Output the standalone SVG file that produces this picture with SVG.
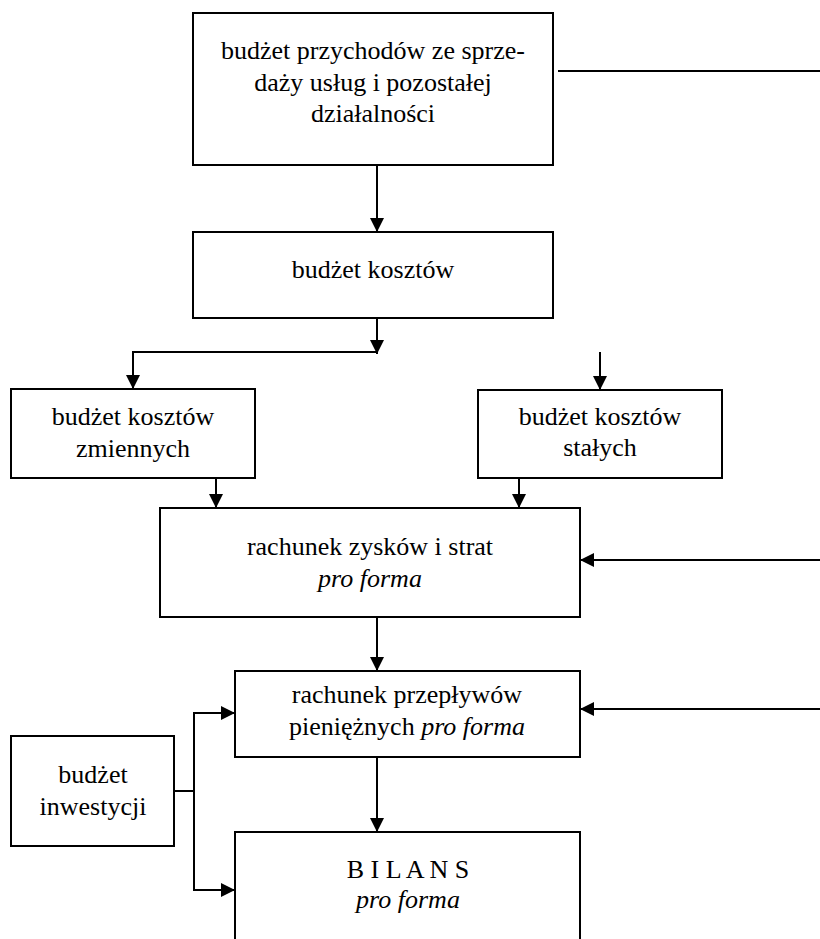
<svg xmlns="http://www.w3.org/2000/svg" width="820" height="939" viewBox="0 0 820 939">
<defs>
<marker id="ah" markerUnits="userSpaceOnUse" markerWidth="14" markerHeight="14" refX="14" refY="7" orient="auto">
<path d="M0,0 L14,7 L0,14 z" fill="#000"/>
</marker>
<style>
rect.n{fill:#fff;stroke:#000;stroke-width:2}
text{font-family:"Liberation Serif","Times New Roman",serif;font-size:26px;fill:#000;text-anchor:middle}
.i{font-style:italic}
.c{fill:none;stroke:#000;stroke-width:2}
.a{marker-end:url(#ah)}
</style>
</defs>
<rect width="820" height="939" fill="#fff"/>
<g id="connectors">
<line class="c" x1="558" y1="71" x2="820" y2="71"/>
<line class="c a" x1="377" y1="165" x2="377" y2="232"/>
<line class="c a" x1="377" y1="318" x2="377" y2="354"/>
<polyline class="c a" points="377,352 133,352 133,389"/>
<line class="c a" x1="600" y1="352" x2="600" y2="390"/>
<line class="c a" x1="216" y1="478" x2="216" y2="508"/>
<line class="c a" x1="519" y1="478" x2="519" y2="508"/>
<line class="c a" x1="820" y1="560" x2="580" y2="560"/>
<line class="c a" x1="377" y1="617" x2="377" y2="671"/>
<line class="c a" x1="820" y1="709" x2="580" y2="709"/>
<line class="c a" x1="377" y1="757" x2="377" y2="832"/>
<line class="c" x1="174" y1="791" x2="194" y2="791"/>
<polyline class="c a" points="194,791 194,713 235,713"/>
<polyline class="c a" points="194,791 194,890 235,890"/>
</g>
<g id="n1">
<rect class="n" x="193" y="13" width="360" height="152"/>
<text x="373" y="59">budżet przychodów ze sprze-</text>
<text x="373" y="91">daży usług i pozostałej</text>
<text x="373" y="122">działalności</text>
</g>
<g id="n2">
<rect class="n" x="193" y="232" width="360" height="86"/>
<text x="373" y="278">budżet kosztów</text>
</g>
<g id="n3">
<rect class="n" x="11" y="389" width="244" height="89"/>
<text x="133" y="425">budżet kosztów</text>
<text x="133" y="457">zmiennych</text>
</g>
<g id="n4">
<rect class="n" x="478" y="390" width="244" height="88"/>
<text x="600" y="425">budżet kosztów</text>
<text x="600" y="456">stałych</text>
</g>
<g id="n5">
<rect class="n" x="160" y="508" width="420" height="109"/>
<text x="370" y="555">rachunek zysków i strat</text>
<text x="370" y="587" class="i">pro forma</text>
</g>
<g id="n6">
<rect class="n" x="235" y="671" width="345" height="86"/>
<text x="407" y="703">rachunek przepływów</text>
<text x="407" y="735">pieniężnych <tspan class="i">pro forma</tspan></text>
</g>
<g id="n7">
<rect class="n" x="11" y="736" width="163" height="110"/>
<text x="93" y="783">budżet</text>
<text x="93" y="815">inwestycji</text>
</g>
<g id="n8">
<rect class="n" x="235" y="832" width="345" height="140"/>
<text x="408" y="878">B I L A N S</text>
<text x="408" y="908" class="i">pro forma</text>
</g>
</svg>
